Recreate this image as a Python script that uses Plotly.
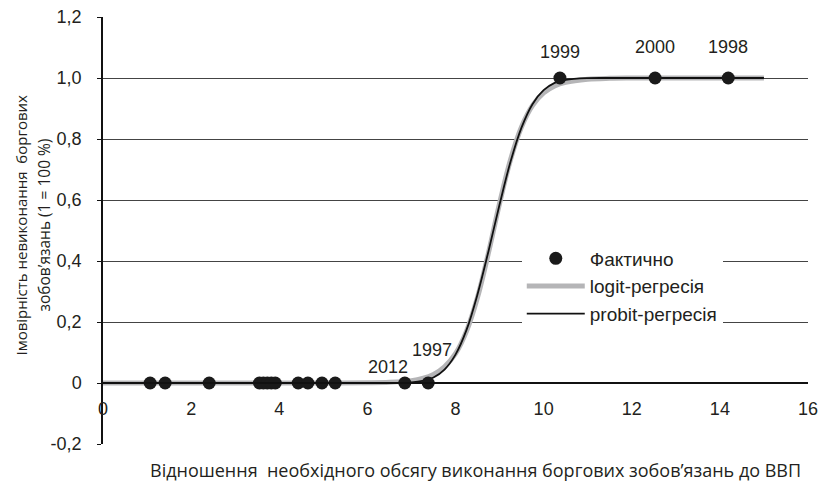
import plotly.graph_objects as go

# Actual observations (debt-service / GDP ratio, default indicator)
fact_x = [1.07, 1.41, 2.41, 3.55, 3.64, 3.73, 3.82, 3.91, 4.43, 4.65, 4.97, 5.27,
          6.85, 7.38, 10.37, 12.53, 14.19]
fact_y = [0, 0, 0, 0, 0, 0, 0, 0, 0, 0, 0, 0, 0, 0, 1, 1, 1]

# Year labels for selected points
label_text = ["2012", "1997", "1999", "2000", "1998"]
label_x = [6.85, 7.38, 10.37, 12.53, 14.19]
label_y = [0, 0, 1, 1, 1]

# Fitted curves
curve_x = [0, 1, 2, 3, 4, 5, 6, 6.5, 7, 7.25, 7.5, 7.75, 8, 8.25, 8.5, 8.75, 9,
           9.25, 9.5, 9.75, 10, 10.25, 10.5, 11, 11.5, 12, 13, 14, 15]
logit_y = [0, 0, 0, 0, 0, 0.0001, 0.0006, 0.0022, 0.0078, 0.015, 0.028, 0.053,
           0.096, 0.170, 0.281, 0.428, 0.589, 0.733, 0.840, 0.910, 0.951, 0.974,
           0.986, 0.996, 0.999, 0.9997, 1, 1, 1]
probit_y = [0, 0, 0, 0, 0, 0, 0, 0.0001, 0.0021, 0.0066, 0.018, 0.044, 0.093,
            0.174, 0.291, 0.433, 0.585, 0.726, 0.838, 0.915, 0.960, 0.984,
            0.994, 0.9995, 1, 1, 1, 1, 1]

x_ticks = [0, 2, 4, 6, 8, 10, 12, 14, 16]
x_ticktext = ["0", "2", "4", "6", "8", "10", "12", "14", "16"]
y_ticks = [-0.2, 0, 0.2, 0.4, 0.6, 0.8, 1.0, 1.2]
y_ticktext = ["-0,2", "0", "0,2", "0,4", "0,6", "0,8", "1,0", "1,2"]

series_names = ["Фактично", "logit-регресія", "probit-регресія"]
x_title = "Відношення  необхідного обсягу виконання боргових зобов’язань до ВВП"
y_title_lines = ["Імовірність невиконання  боргових", "зобов’язань (1 = 100 %)"]

FONT = "Liberation Sans, Arial, sans-serif"
TITLE_FONT = "Open Sans, sans-serif"
TXT = "#231f20"

fig = go.Figure()
fig.add_trace(go.Scatter(x=curve_x, y=logit_y, mode="lines", name=series_names[1],
                         legendrank=2, legendgroup="b",
                         line=dict(color="#b5b5b7", width=5, shape="spline")))
fig.add_trace(go.Scatter(x=curve_x, y=probit_y, mode="lines", name=series_names[2],
                         legendrank=3, legendgroup="c",
                         line=dict(color="#111111", width=1.8, shape="spline")))
fig.add_trace(go.Scatter(x=fact_x, y=fact_y, mode="markers", name=series_names[0],
                         legendrank=1, legendgroup="a",
                         marker=dict(color="#1a1a1a", size=13, line=dict(width=0)),
                         cliponaxis=False))

label_dx = [-17, 4, 0, 0, 0]
label_dy = [16, 33, 26, 31, 31]
for t, x, y, dx, dy in zip(label_text, label_x, label_y, label_dx, label_dy):
    fig.add_annotation(x=x, y=y, text=t, showarrow=False, xshift=dx, yshift=dy,
                       font=dict(family=FONT, size=18, color=TXT))

fig.add_annotation(x=0.528, y=0, xref="paper", yref="paper", yshift=-26,
                   text=x_title, showarrow=False, xanchor="center", yanchor="middle",
                   font=dict(family=TITLE_FONT, size=18, color=TXT))
for line_text, dx, fs in zip(y_title_lines, [-83, -60], [15, 15.5]):
    fig.add_annotation(x=0, y=0.5, xref="paper", yref="paper", xshift=dx, yshift=5,
                       text=line_text, showarrow=False, textangle=-90,
                       xanchor="center", yanchor="middle",
                       font=dict(family=TITLE_FONT, size=fs, color=TXT))

fig.update_layout(
    width=821, height=487,
    margin=dict(l=103, r=13, t=17, b=43, autoexpand=False),
    plot_bgcolor="white", paper_bgcolor="white",
    font=dict(family=FONT, size=18, color=TXT),
    showlegend=True,
    legend=dict(x=0.594, y=0.479, xanchor="left", yanchor="top",
                bgcolor="white", borderwidth=0, traceorder="normal",
                tracegroupgap=3,
                font=dict(family=FONT, size=19, color=TXT),
                itemwidth=58),
    xaxis=dict(range=[0, 16], tickvals=x_ticks, ticktext=x_ticktext,
               showgrid=False, zeroline=False, showline=True, linecolor="#111",
               linewidth=2, ticks="", anchor="free", position=0.2 / 1.4,
               automargin=False, ticklabelstandoff=9,
               tickfont=dict(family=FONT, size=18, color=TXT)),
    yaxis=dict(range=[-0.2, 1.2], tickvals=y_ticks, ticktext=y_ticktext,
               showgrid=True, gridcolor="#444", gridwidth=1, zeroline=False,
               showline=True, linecolor="#111", linewidth=1.5, ticks="outside",
               ticklen=4, tickcolor="#111", automargin=False,
               ticklabelstandoff=12,
               tickfont=dict(family=FONT, size=18, color=TXT)),
)

fig.write_html("out.html",
               config={"displayModeBar": False},
               post_script="document.body.style.margin='0';"
                           "document.body.style.padding='0';")
